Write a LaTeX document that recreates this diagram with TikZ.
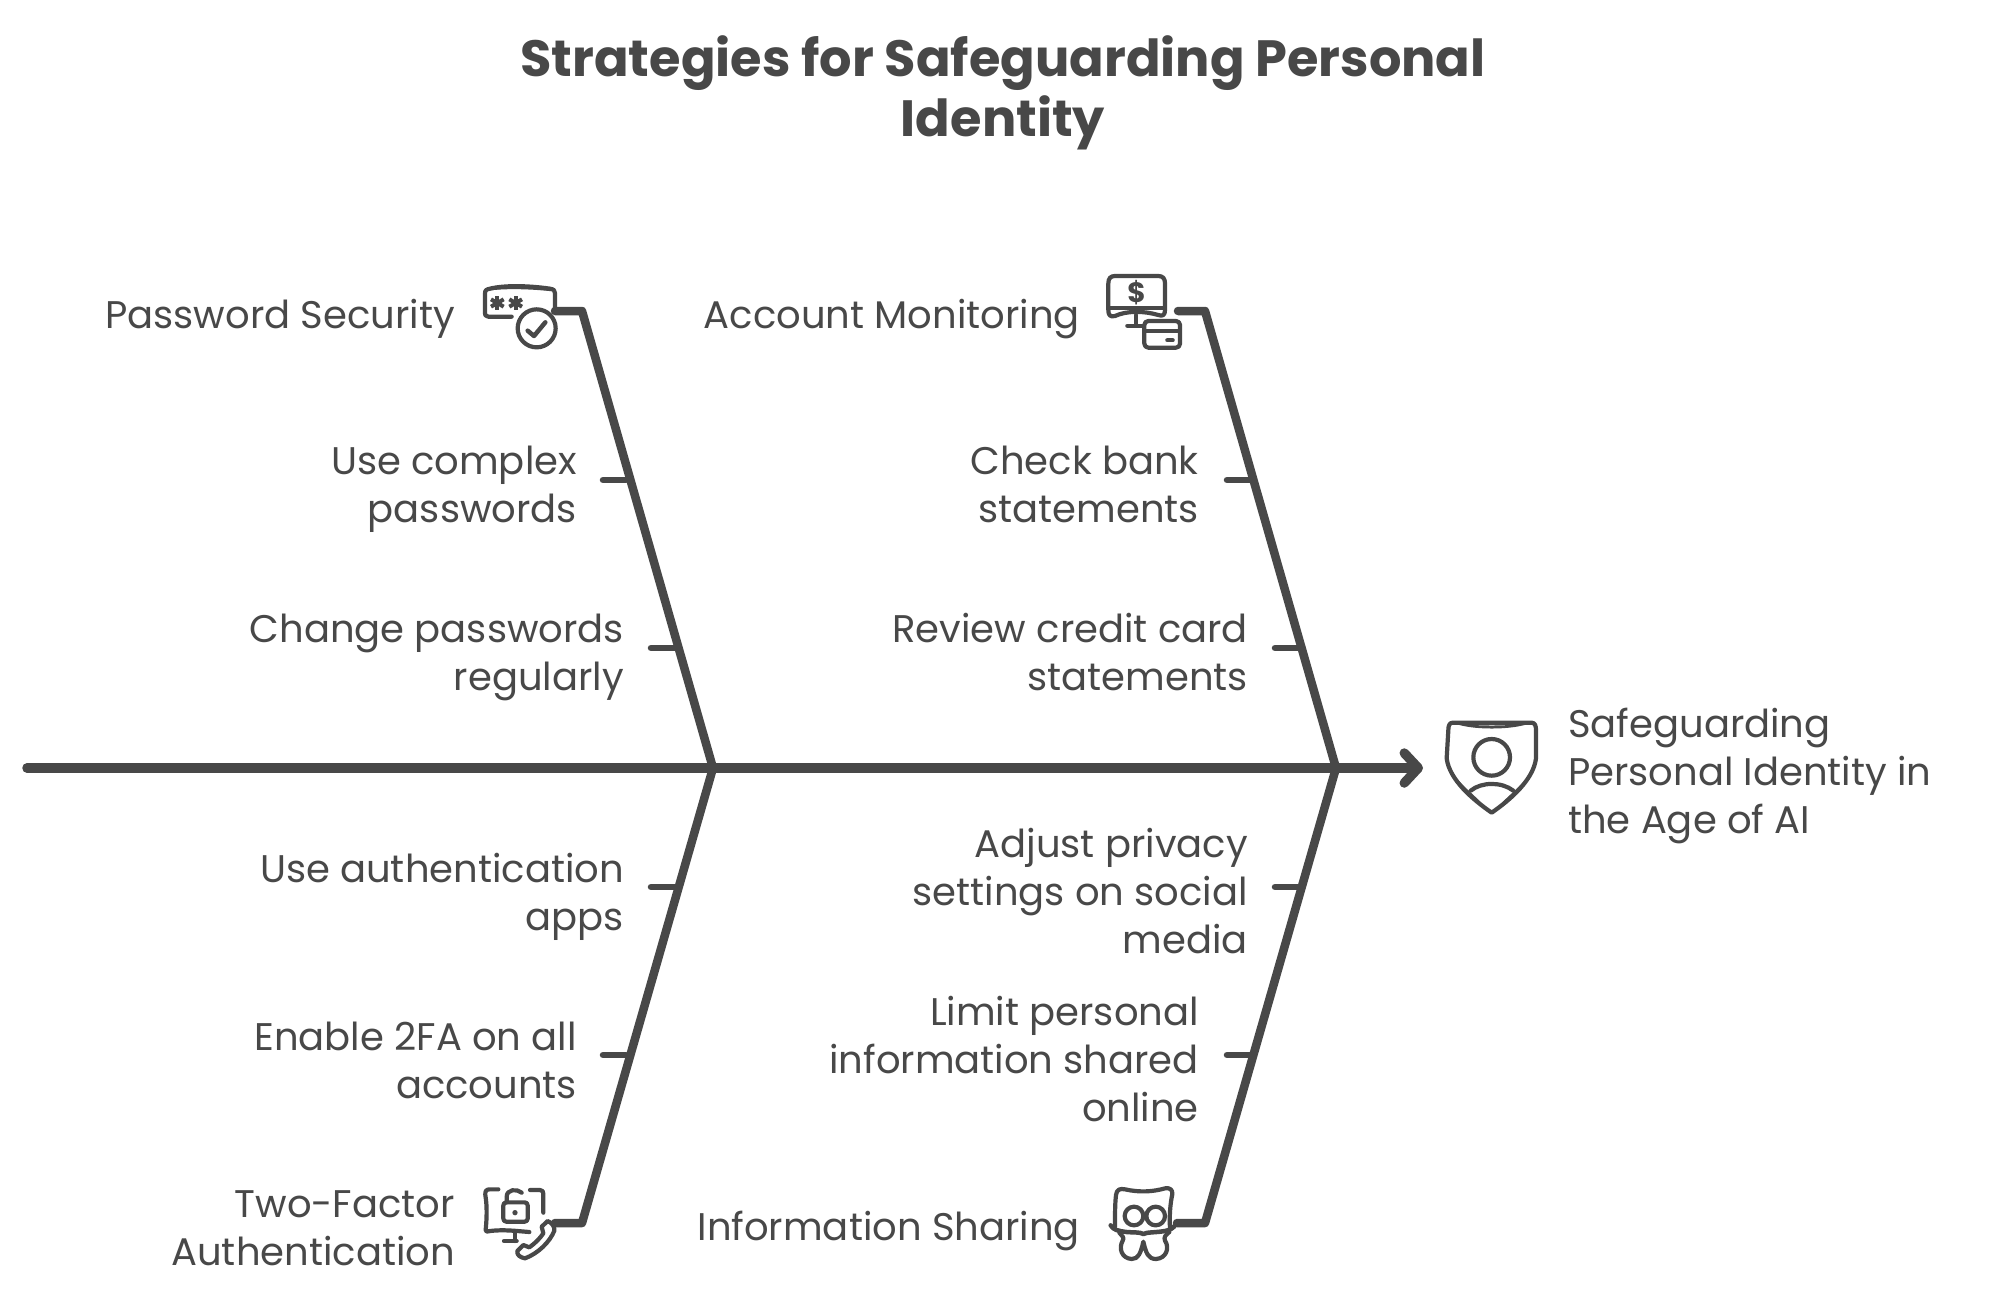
\documentclass[tikz,border=0pt]{standalone}
\usepackage{fontspec}
\setmainfont{Poppins}
\usetikzlibrary{arrows.meta}
\definecolor{ink}{HTML}{484848}
\tikzset{
  lbl/.style={text=ink,font=\fontsize{38.5}{48}\selectfont,inner sep=0pt,align=right,anchor=east,execute at begin node=\strut,execute at end node=\strut},
  lblL/.style={text=ink,font=\fontsize{38.5}{48}\selectfont,inner sep=0pt,align=left,anchor=west,execute at begin node=\strut,execute at end node=\strut},
  ttl/.style={text=ink,font=\bfseries\fontsize{51}{60}\selectfont,inner sep=0pt,align=center,execute at begin node=\strut,execute at end node=\strut},
  bone/.style={draw=ink,line width=8.5pt,line cap=round,line join=round},
  rib/.style={draw=ink,line width=6.5pt,line cap=round},
  ic/.style={draw=ink,line width=4.2pt,line cap=round,line join=round},
  icthick/.style={draw=ink,line width=5pt,line cap=round,line join=round},
}
\begin{document}
\begin{tikzpicture}[x=1pt,y=-1pt]
\useasboundingbox[fill=white] (0,0) rectangle (1996,1296);
% title
\node[ttl] (title) at (1003,95) {Strategies for Safeguarding Personal\\Identity};
% anchors
\coordinate (tail) at (27,768);
\coordinate (j1) at (713,768);
\coordinate (j2) at (1336,768);
\coordinate (tip) at (1423,768);
\coordinate (a1) at (555,311); \coordinate (a2) at (582,311);
\coordinate (b1) at (1178,311); \coordinate (b2) at (1205,311);
\coordinate (c1) at (555,1223); \coordinate (c2) at (582,1223);
\coordinate (d1) at (1177,1223); \coordinate (d2) at (1205,1223);
% ribs' ends
\coordinate (r1a) at (603,480); \coordinate (r1b) at (626,480);
\coordinate (r2a) at (651,648); \coordinate (r2b) at (675,648);
\coordinate (r3a) at (1227,480); \coordinate (r3b) at (1250,480);
\coordinate (r4a) at (1275,648); \coordinate (r4b) at (1298,648);
\coordinate (r5a) at (651,887); \coordinate (r5b) at (675,887);
\coordinate (r6a) at (603,1055); \coordinate (r6b) at (626,1055);
\coordinate (r7a) at (1275,887); \coordinate (r7b) at (1298,887);
\coordinate (r8a) at (1227,1055); \coordinate (r8b) at (1250,1055);
% spine and bones
\draw[bone,line width=9.5pt,-{Straight Barb[length=14pt,width=30pt,round]}] (tail) -- (j1) -- (j2) -- (tip);
\draw[bone] (a1) -- (a2) -- (j1);
\draw[bone] (b1) -- (b2) -- (j2);
\draw[bone] (c1) -- (c2) -- (j1);
\draw[bone] (d1) -- (d2) -- (j2);
\foreach \i in {1,...,8} \draw[rib] (r\i a) -- (r\i b);
% labels
\node[lbl] (t1) at (455,319) {Password Security};
\node[lbl] (t2) at (577,491) {Use complex\\passwords};
\node[lbl] (t3) at (624,659) {Change passwords\\regularly};
\node[lbl] (t4) at (1080,319) {Account Monitoring};
\node[lbl] (t5) at (1199,491) {Check bank\\statements};
\node[lbl] (t6) at (1248,659) {Review credit card\\statements};
\node[lbl] (t7) at (624,899) {Use authentication\\apps};
\node[lbl] (t8) at (577,1067) {Enable 2FA on all\\accounts};
\node[lbl] (t9) at (455,1235) {Two-Factor\\Authentication};
\node[lbl] (t10) at (1248,898) {Adjust privacy\\settings on social\\media};
\node[lbl] (t11) at (1199,1066) {Limit personal\\information shared\\online};
\node[lbl] (t12) at (1080,1231) {Information Sharing};
\node[lblL] (t13) at (1568,778) {Safeguarding\\Personal Identity in\\the Age of AI};
% icon 1: password
\begin{scope}[shift={(460,260)},scale=1/3]
 \draw[ic] (155,170) -- (85,170) .. controls (76,170) and (75,165) .. (75,155) -- (75,100) .. controls (75,90) and (80,88) .. (90,86) .. controls (130,76) and (200,76) .. (270,86) .. controls (282,88) and (285,92) .. (285,100) -- (285,150);
 \draw[icthick,line width=2.5pt] (85,88) .. controls (130,82) and (200,82) .. (275,90);
 \foreach \c in {112,167}{
  \draw[draw=ink,line width=4pt] (\c,108) -- (\c,150);
  \draw[draw=ink,line width=4pt] (\c-19,118) -- (\c+19,140);
  \draw[draw=ink,line width=4pt] (\c-19,140) -- (\c+19,118);
 }
 \draw[ic,fill=white] (230,205) circle (57);
 \draw[ic,line width=4.5pt] (203,212) -- (222,228) -- (256,187);
\end{scope}
% icon 2: monitor and card
\begin{scope}[shift={(1090,260)},scale=1/3]
 \draw[ic] (75,48) -- (205,48) .. controls (218,48) and (225,55) .. (225,70) -- (225,150) .. controls (225,165) and (218,170) .. (205,165) .. controls (160,152) and (110,152) .. (75,168) .. controls (60,172) and (55,165) .. (55,150) -- (55,70) .. controls (55,55) and (62,48) .. (75,48) -- cycle;
 \draw[ic] (58,143) -- (222,143);
 \node[text=ink,inner sep=0pt,font=\bfseries\fontsize{28}{28}\selectfont] (dollar) at (140,97) {\$};
 \draw[ic] (138,165) -- (138,195);
 \draw[ic] (112,197) -- (160,197);
 \draw[ic,fill=white,rounded corners=4pt] (163,183) rectangle (270,263);
 \draw[ic] (165,213) -- (268,213);
 \draw[ic] (232,241) -- (248,241);
\end{scope}
% icon 3: lock and phone
\begin{scope}[shift={(460,1170)},scale=1/3]
 \draw[ic] (115,58) -- (88,58) .. controls (78,58) and (75,65) .. (76,75) .. controls (82,110) and (80,150) .. (77,180) .. controls (76,186) and (82,186) .. (90,183) .. controls (130,178) and (170,183) .. (208,186);
 \draw[ic] (210,60) -- (240,60) .. controls (248,60) and (250,65) .. (250,72) -- (250,128);
 \draw[ic] (165,190) -- (165,213);
 \draw[ic] (132,213) -- (170,213);
 \draw[ic,rounded corners=3pt] (130,97) rectangle (203,155);
 \draw[ic] (140,97) -- (140,80) .. controls (140,58) and (170,55) .. (185,68);
 \fill[ink] (165,128) circle (8);
 \draw[ic,fill=white] (245,170) -- (263,153) .. controls (275,158) and (285,170) .. (283,182) .. controls (270,215) and (235,250) .. (195,265) .. controls (180,262) and (170,255) .. (172,243) -- (190,225) -- (208,232) .. controls (225,220) and (240,205) .. (250,190) -- cycle;
\end{scope}
% icon 4: spy
\begin{scope}[shift={(1090,1170)},scale=1/3]
 \draw[ic] (75,170) .. controls (75,130) and (75,100) .. (78,75) .. controls (80,58) and (90,55) .. (105,58) .. controls (150,68) and (190,65) .. (225,55) .. controls (240,52) and (248,60) .. (247,72) .. controls (240,105) and (238,140) .. (240,178);
 \draw[ic] (132,138) circle (28);
 \draw[ic] (197,138) circle (28);
 \draw[icthick,line width=4.5pt] (62,166) .. controls (70,180) and (85,183) .. (110,186) .. controls (135,188) and (150,186) .. (160,192) .. controls (170,186) and (195,188) .. (225,183) .. controls (240,180) and (250,175) .. (258,162);
 \draw[ic] (88,188) .. controls (95,198) and (105,202) .. (98,212) .. controls (85,235) and (95,265) .. (125,267) .. controls (145,267) and (152,250) .. (160,215) .. controls (168,250) and (175,267) .. (198,267) .. controls (228,265) and (240,235) .. (225,212) .. controls (220,200) and (228,195) .. (238,186);
\end{scope}
% icon 5: shield
\begin{scope}[shift={(1300,700)},scale=1/3]
 \draw[ic] (445,90) .. controls (445,78) and (448,68) .. (458,68) -- (695,68) .. controls (705,68) and (708,78) .. (708,90) -- (708,175) .. controls (700,240) and (630,300) .. (575,338) .. controls (520,300) and (448,240) .. (440,175) -- cycle;
 \fill[ink] (455,66) .. controls (500,80) and (650,80) .. (698,66) .. controls (650,92) and (500,92) .. (455,66) -- cycle;
 \draw[ic] (575,172) circle (55);
 \draw[ic] (512,272) .. controls (545,245) and (605,245) .. (640,272);
 \fill[ink] (441,190) .. controls (452,245) and (520,300) .. (575,342) .. controls (530,285) and (462,245) .. (441,190) -- cycle;
 \fill[ink] (708,190) .. controls (698,245) and (630,300) .. (575,342) .. controls (620,285) and (688,245) .. (708,190) -- cycle;
\end{scope}
\end{tikzpicture}
\end{document}
